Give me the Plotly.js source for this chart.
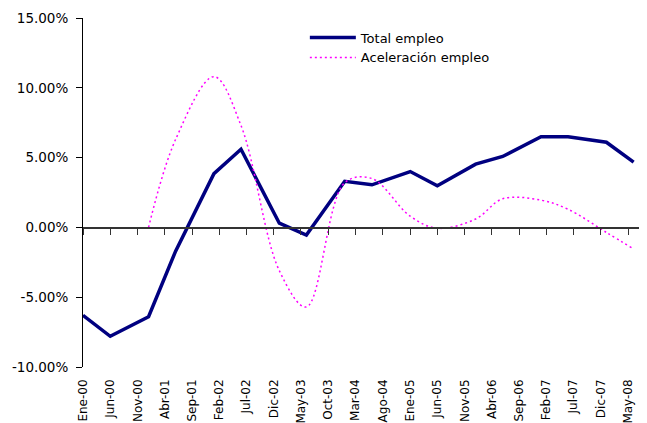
<!DOCTYPE html>
<html>
<head>
<meta charset="utf-8">
<script src="https://cdn.plot.ly/plotly-3.0.1.min.js"></script>
<style>
  html, body { margin: 0; padding: 0; background: #fff; }
  #chart { width: 647px; height: 423px; }
</style>
</head>
<body>
<div id="chart"></div>
<script>
// Semiannual observations (January and June of each year)
const periods = [
  'Ene-00', 'Jun-00', 'Ene-01', 'Jun-01', 'Ene-02', 'Jun-02', 'Ene-03', 'Jun-03',
  'Ene-04', 'Jun-04', 'Ene-05', 'Jun-05', 'Ene-06', 'Jun-06', 'Ene-07', 'Jun-07',
  'Ene-08', 'Jun-08'
];

// Year-on-year growth of total employment (%)
const totalEmpleo = [
  -6.3, -7.8, -6.4, -1.7, 3.85, 5.6, 0.3, -0.55,
  3.3, 3.05, 4.0, 2.98, 4.53, 5.08, 6.5, 6.5,
  6.1, 4.68
];

// Acceleration of employment growth (%)
const aceleracionEmpleo = [
  null, null, 0.0, 6.3, 10.8, 7.3, -3.1, -5.7,
  3.2, 3.5, 0.8, -0.06, 0.6, 2.05, 1.95, 1.3,
  -0.36, -1.55
];

// Axis tick labels, one every five months
const tickLabels = [
  'Ene-00', 'Jun-00', 'Nov-00', 'Abr-01', 'Sep-01', 'Feb-02', 'Jul-02', 'Dic-02',
  'May-03', 'Oct-03', 'Mar-04', 'Ago-04', 'Ene-05', 'Jun-05', 'Nov-05', 'Abr-06',
  'Sep-06', 'Feb-07', 'Jul-07', 'Dic-07', 'May-08'
];

const yTickValues = [-10, -5, 0, 5, 10, 15];
const yTickLabels = ['-10.00%', '-5.00%', '0.00%', '5.00%', '10.00%', '15.00%'];

// Spanish month abbreviations -> ISO month number
const monthIndex = {
  Ene: '01', Feb: '02', Mar: '03', Abr: '04', May: '05', Jun: '06',
  Jul: '07', Ago: '08', Sep: '09', Oct: '10', Nov: '11', Dic: '12'
};
function toDate(label) {
  const [m, yy] = label.split('-');
  return '20' + yy + '-' + monthIndex[m] + '-01';
}

const xDates = periods.map(toDate);
const tickDates = tickLabels.map(toDate);
const xRange = ['2000-01-01', '2008-07-01'];

const font = 'DejaVu Sans, Verdana, sans-serif';

const traces = [
  {
    name: 'Total empleo',
    x: xDates,
    y: totalEmpleo,
    type: 'scatter',
    mode: 'lines',
    line: { color: '#000080', width: 3.5 },
    hoverinfo: 'skip'
  },
  {
    name: 'Aceleración empleo',
    x: xDates,
    y: aceleracionEmpleo,
    type: 'scatter',
    mode: 'lines',
    line: { color: '#FF00FF', width: 1.5, dash: '2px,3px', shape: 'spline', smoothing: 1 },
    hoverinfo: 'skip'
  },
  {
    // carries the zero-line axis with its tick marks
    x: [], y: [],
    xaxis: 'x2',
    type: 'scatter',
    mode: 'lines',
    showlegend: false,
    hoverinfo: 'skip'
  }
];

const layout = {
  width: 647,
  height: 423,
  margin: { l: 83, r: 8, t: 18, b: 56, pad: 0 },
  paper_bgcolor: '#ffffff',
  plot_bgcolor: '#ffffff',
  font: { family: font, color: '#000000', size: 13 },
  showlegend: true,
  legend: {
    x: 0.399,
    y: 0.987,
    xanchor: 'left',
    yanchor: 'top',
    bgcolor: 'rgba(0,0,0,0)',
    borderwidth: 0,
    itemwidth: 46,
    font: { family: font, size: 13, color: '#000000' }
  },
  xaxis: {
    type: 'date',
    range: xRange,
    tickvals: tickDates,
    ticktext: tickLabels,
    tickangle: -90,
    ticks: '',
    showline: false,
    showgrid: false,
    zeroline: false,
    ticklabelstandoff: 9,
    tickfont: { family: font, size: 12, color: '#000000' }
  },
  xaxis2: {
    type: 'date',
    overlaying: 'x',
    anchor: 'free',
    position: 0.4,
    side: 'bottom',
    range: xRange,
    tickvals: tickDates,
    showticklabels: false,
    ticks: 'outside',
    ticklen: 6,
    tickwidth: 1,
    tickcolor: '#333333',
    showline: true,
    linecolor: '#333333',
    linewidth: 1.2,
    showgrid: false,
    zeroline: false
  },
  yaxis: {
    range: [-10, 15],
    tickvals: yTickValues,
    ticktext: yTickLabels,
    ticks: 'outside',
    ticklen: 6,
    tickwidth: 1,
    tickcolor: '#000000',
    showline: true,
    linecolor: '#000000',
    linewidth: 1,
    showgrid: false,
    zeroline: false,
    ticklabelstandoff: 5,
    tickfont: { family: font, size: 13.5, color: '#000000' }
  }
};

Plotly.newPlot('chart', traces, layout, { staticPlot: true, displayModeBar: false });
</script>
</body>
</html>
